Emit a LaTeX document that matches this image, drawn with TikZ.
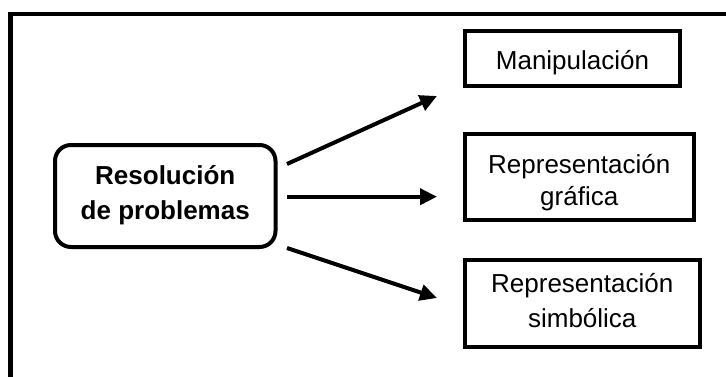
\documentclass[tikz,border=0pt]{standalone}
\usepackage{fontspec}
\setmainfont{Liberation Sans}
\usetikzlibrary{arrows.meta}
\newcommand\mytop[1]{\rule{0pt}{#1}}
\newcommand\mybot[1]{\rule[-#1]{0pt}{#1}}
\begin{document}
\begin{tikzpicture}[x=1pt,y=-1pt,
  box/.style={draw, line width=4pt, inner sep=0pt, align=center,
    font=\fontsize{26pt}{32pt}\selectfont},
  mainbox/.style={box, rounded corners=16pt,
    font=\fontsize{26pt}{35pt}\selectfont\bfseries},
  conn/.style={line width=4pt, -{Triangle[length=17pt,width=16pt]}}]
\useasboundingbox (0,0) rectangle (726,376);
\fill[white] (0,0) rectangle (726,376);
\draw[line width=4.5pt] (10.5,380) -- (10.5,14) -- (730,14);
\node[mainbox, minimum width=220.5pt, minimum height=102pt] (res) at (165.25,196) {\mytop{23pt}Resolución\\de problemas\mybot{12pt}};
\node[box, minimum width=215pt, minimum height=55pt] (man) at (572.5,58.5) {\mytop{27pt}Manipulación\mybot{6pt}};
\node[box, minimum width=229.5pt, minimum height=85.5pt] (gra) at (579.25,176.75) {\mytop{36pt}Representación\\gráfica\mybot{10pt}};
\node[box, minimum width=235.5pt, minimum height=87.5pt, font=\fontsize{26pt}{35pt}\selectfont] (sim) at (582.25,303.25) {\mytop{26pt}Representación\\simbólica\mybot{12pt}};
\coordinate (s1) at (287,164);
\coordinate (e1) at (437,96);
\coordinate (s2) at (287,196.7);
\coordinate (e2) at (437,196.7);
\coordinate (s3) at (287,248);
\coordinate (e3) at (437,298);
\draw[conn] (s1) -- (e1);
\draw[conn] (s2) -- (e2);
\draw[conn] (s3) -- (e3);
\end{tikzpicture}
\end{document}
